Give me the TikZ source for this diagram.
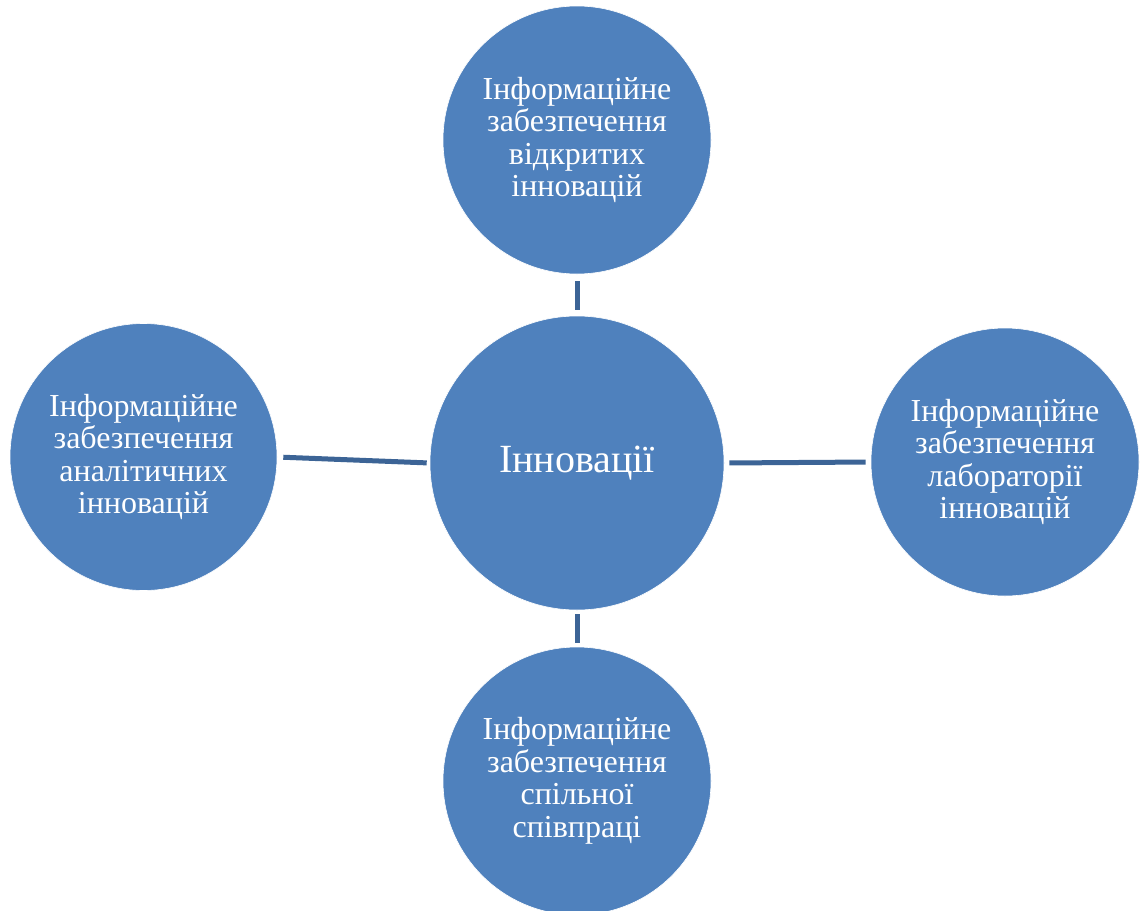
\documentclass[tikz,border=0pt]{standalone}
\usepackage{fontspec}
\setmainfont{Liberation Serif}
\definecolor{cfill}{HTML}{4F81BD}
\definecolor{cline}{HTML}{3C6496}
\begin{document}
\begin{tikzpicture}[x=1pt,y=-1pt,
  bubble/.style={circle,fill=cfill,draw=white,line width=0.6pt,inner sep=0pt,text=white,align=center,
    font=\fontsize{32}{32.5}\selectfont},
  link/.style={draw=cline,line width=5pt}]
\clip (0,0) rectangle (1145,910);
\fill[white] (0,0) rectangle (1145,910);
\node[bubble,minimum size=268pt] (top) at (577,140) {Інформаційне\\забезпечення\\відкритих\\інновацій};
\node[bubble,minimum size=294pt,font=\fontsize{40}{46}\selectfont] (c) at (577,463) {Інновації};
\node[bubble,minimum size=267pt] (l) at (143.5,457) {Інформаційне\\забезпечення\\аналітичних\\інновацій};
\node[bubble,minimum size=268pt] (r) at (1005,462) {Інформаційне\\забезпечення\\лабораторії\\інновацій};
\node[bubble,minimum size=268pt] (b) at (577,781) {Інформаційне\\забезпечення\\спільної\\співпраці};
\draw[link,shorten <=7pt,shorten >=6pt] (top.south) -- (top.south |- c.north);
\draw[link,shorten <=4pt,shorten >=4pt] (c.south) -- (c.south |- b.north);
\draw[link,shorten <=6pt,shorten >=3pt] (l.east) -- (c.west);
\draw[link,shorten <=5pt,shorten >=5pt] (c.east) -- (r.west);
\end{tikzpicture}
\end{document}
